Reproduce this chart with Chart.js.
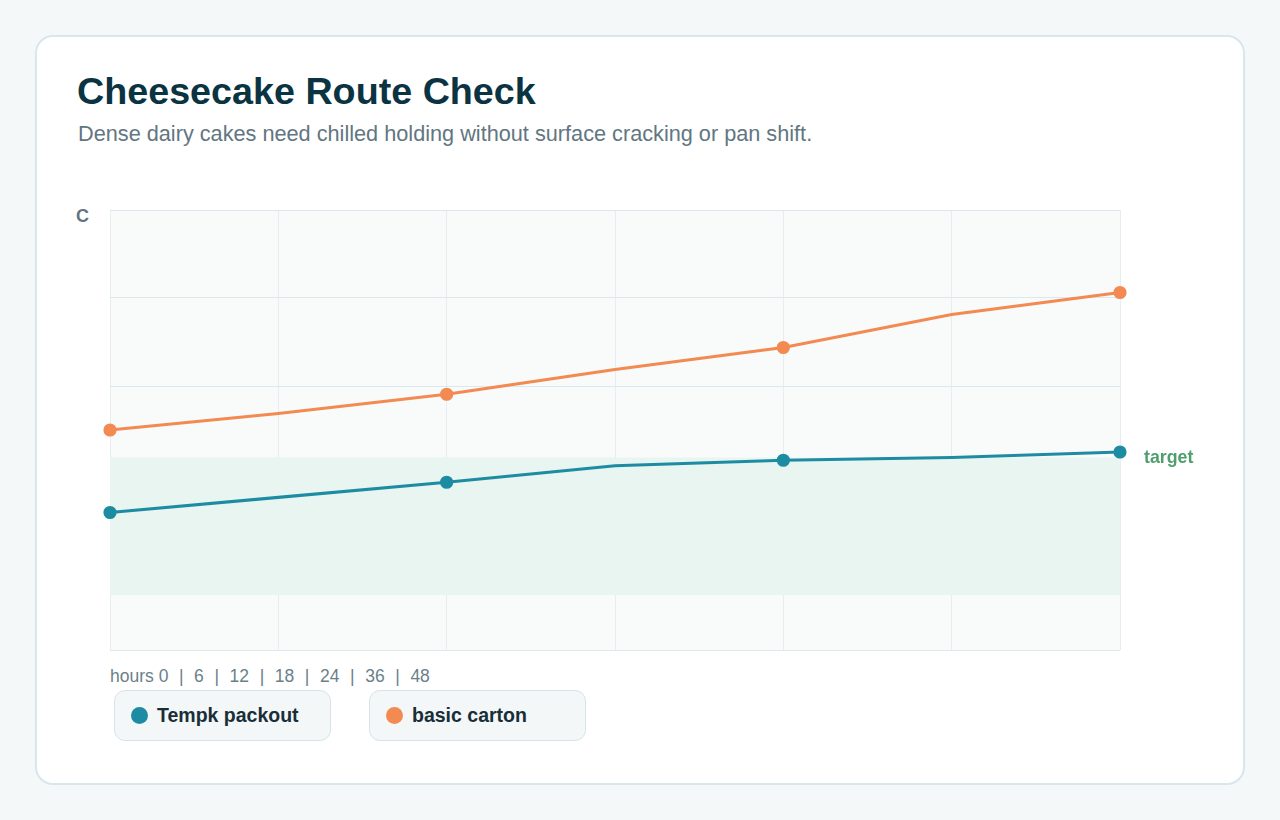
<!DOCTYPE html>
<html>
<head>
<meta charset="utf-8">
<script src="https://cdn.jsdelivr.net/npm/chart.js"></script>
<style>
  body {
    margin: 0;
    background: #f4f8f9;
    font-family: "Liberation Sans", Arial, sans-serif;
  }
  .card {
    position: absolute;
    left: 35px;
    top: 35px;
    width: 1206px;
    height: 746px;
    background: #ffffff;
    border: 2px solid #d9e6eb;
    border-radius: 18px;
  }
  h1 {
    position: absolute;
    left: 77px;
    top: 70px;
    margin: 0;
    font-size: 37.7px;
    font-weight: bold;
    color: #0b3442;
  }
  .sub {
    position: absolute;
    left: 78px;
    top: 121px;
    margin: 0;
    font-size: 21.7px;
    color: #627681;
  }
  .ylabel {
    position: absolute;
    left: 76px;
    top: 206px;
    font-size: 18px;
    font-weight: bold;
    color: #5f7480;
  }
  .chart-box {
    position: absolute;
    left: 70px;
    top: 200px;
    width: 1160px;
    height: 460px;
  }
  .hours {
    position: absolute;
    left: 110px;
    top: 666px;
    font-size: 17.5px;
    color: #6b7f89;
    white-space: pre;
  }
  .hours .sep {
    margin: 0 10.6px;
  }
  .legend-item {
    position: absolute;
    top: 690px;
    width: 215px;
    height: 49px;
    background: #f3f7f8;
    border: 1px solid #d6e4ea;
    border-radius: 11px;
  }
  .legend-item .dot {
    position: absolute;
    left: 16px;
    top: 16px;
    width: 17px;
    height: 17px;
    border-radius: 50%;
  }
  .legend-item .name {
    position: absolute;
    left: 42px;
    top: 13px;
    font-size: 19.5px;
    font-weight: bold;
    color: #1a2e38;
  }
</style>
</head>
<body>
<div class="card"></div>
<h1>Cheesecake Route Check</h1>
<p class="sub">Dense dairy cakes need chilled holding without surface cracking or pan shift.</p>
<div class="ylabel">C</div>
<div class="chart-box"><canvas id="chart"></canvas></div>
<div class="hours" id="hours"></div>
<div class="legend-item" style="left:114px"><span class="dot" style="background:#1d8ca2"></span><span class="name">Tempk packout</span></div>
<div class="legend-item" style="left:369px"><span class="dot" style="background:#f28a52"></span><span class="name">basic carton</span></div>

<script>
  const hours = ['0', '6', '12', '18', '24', '36', '48'];
  const tempkPackout = [5.0, 5.55, 6.1, 6.7, 6.9, 7.0, 7.2];
  const basicCarton = [8.0, 8.6, 9.3, 10.2, 11.0, 12.2, 13.0];
  const targetBand = [2, 7];
  const yRange = [0, 16];

  document.getElementById('hours').innerHTML =
    'hours ' + hours.join('<span class="sep">|</span>');

  const plotBackground = {
    id: 'plotBackground',
    beforeDraw(chart) {
      const { ctx, chartArea } = chart;
      ctx.save();
      ctx.fillStyle = '#f9fbfb';
      ctx.fillRect(chartArea.left, chartArea.top, chartArea.width, chartArea.height);
      ctx.restore();
    }
  };

  const targetZone = {
    id: 'targetZone',
    beforeDatasetsDraw(chart) {
      const { ctx, chartArea } = chart;
      const y = chart.scales.y;
      const top = y.getPixelForValue(targetBand[1]);
      const bottom = y.getPixelForValue(targetBand[0]);
      ctx.save();
      ctx.fillStyle = '#e8f5f0';
      ctx.fillRect(chartArea.left, top, chartArea.width, bottom - top);
      ctx.fillStyle = '#4f9e6e';
      ctx.font = 'bold 17.8px "Liberation Sans", Arial, sans-serif';
      ctx.textBaseline = 'middle';
      ctx.fillText('target', chartArea.right + 24, top + 1);
      ctx.restore();
    }
  };

  const markEvery = (ctx) => (ctx.dataIndex % 2 === 0 ? 5 : 0);

  new Chart(document.getElementById('chart'), {
    type: 'line',
    data: {
      labels: hours,
      datasets: [
        {
          label: 'Tempk packout',
          data: tempkPackout,
          borderColor: '#1d8ca2',
          backgroundColor: '#1d8ca2',
          borderWidth: 3.2,
          pointRadius: markEvery,
          pointHoverRadius: markEvery,
          tension: 0,
          clip: false
        },
        {
          label: 'basic carton',
          data: basicCarton,
          borderColor: '#f28a52',
          backgroundColor: '#f28a52',
          borderWidth: 3.2,
          pointRadius: markEvery,
          pointHoverRadius: markEvery,
          tension: 0,
          clip: false
        }
      ]
    },
    options: {
      responsive: true,
      maintainAspectRatio: false,
      animation: false,
      layout: {
        padding: { left: 40, top: 10, right: 110, bottom: 10 }
      },
      plugins: {
        legend: { display: false },
        tooltip: { enabled: false }
      },
      scales: {
        x: {
          grid: { color: '#e6eef1', drawTicks: false },
          border: { display: false },
          ticks: { display: false }
        },
        y: {
          min: yRange[0],
          max: yRange[1],
          grid: { color: '#dbe8ed', drawTicks: false },
          border: { display: false },
          ticks: { display: false, stepSize: 3.2 }
        }
      }
    },
    plugins: [plotBackground, targetZone]
  });
</script>
</body>
</html>
